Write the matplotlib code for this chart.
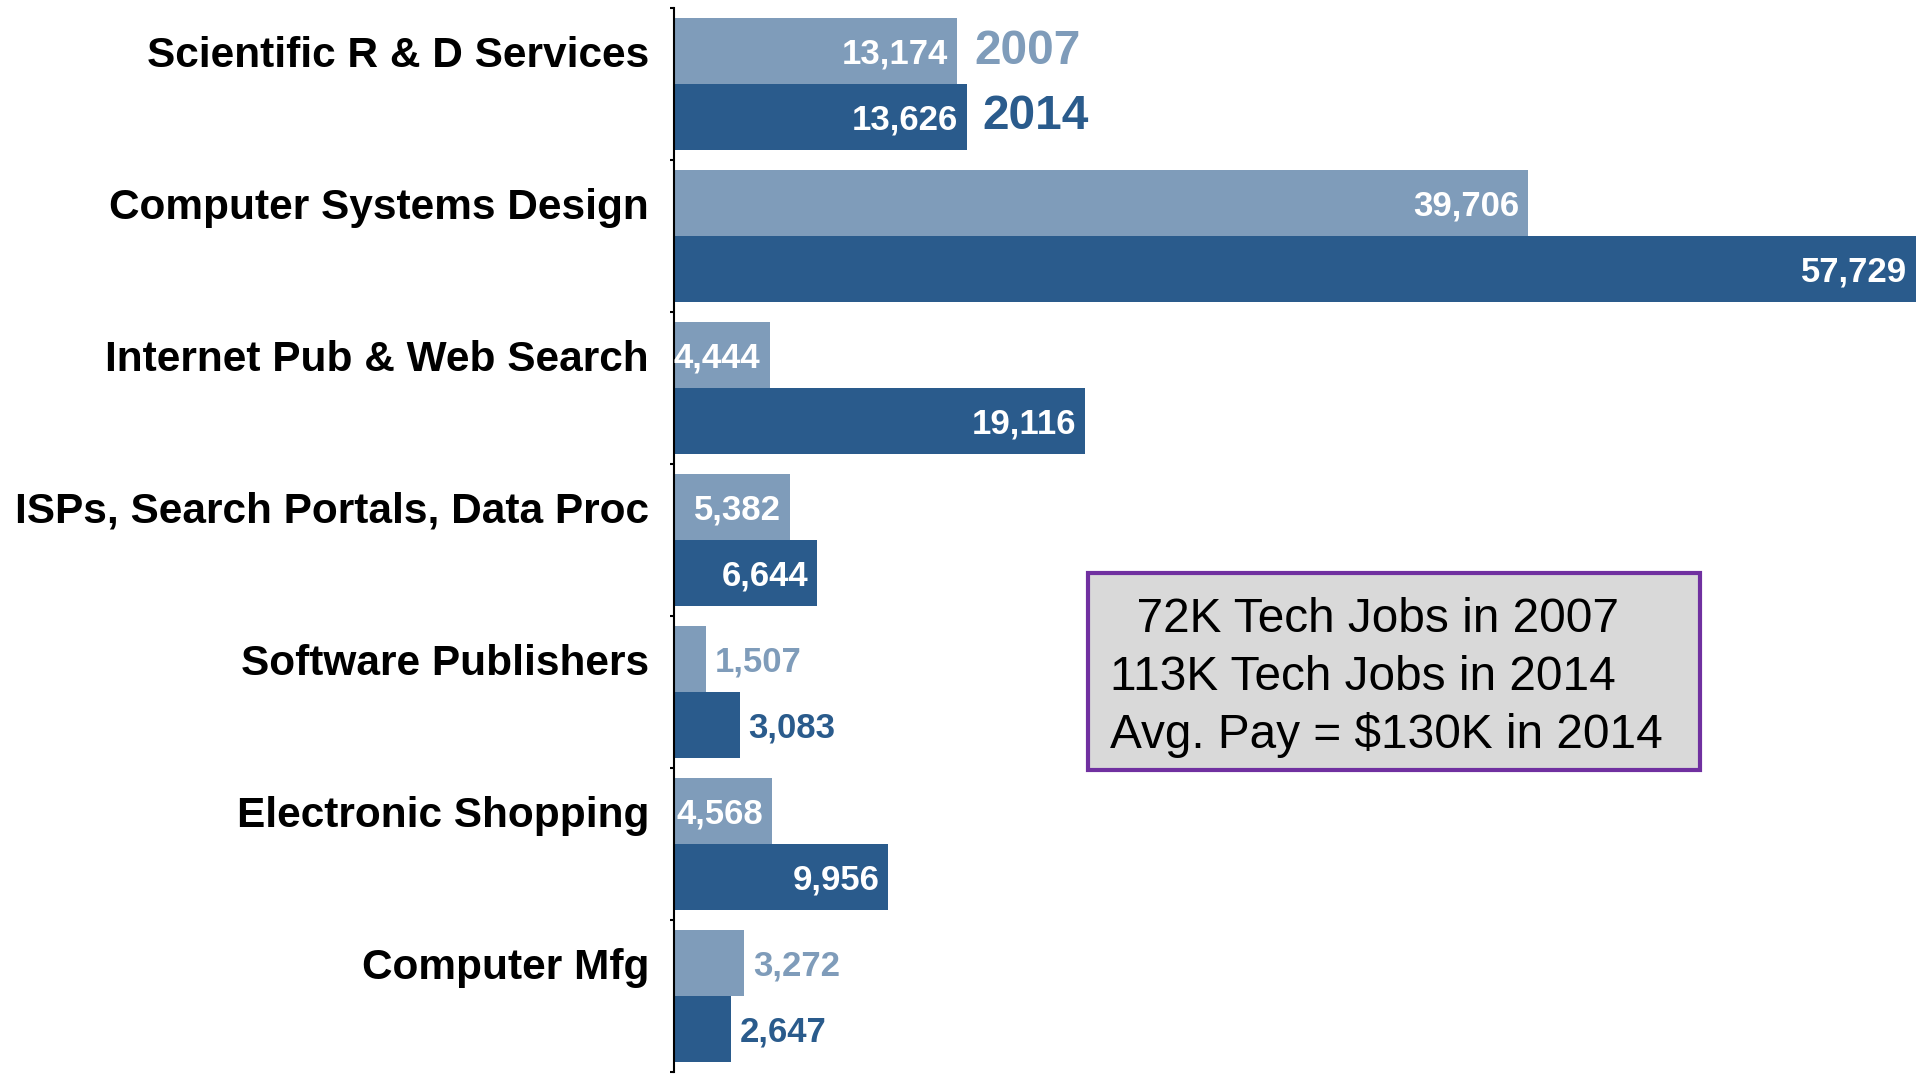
import matplotlib.pyplot as plt
from matplotlib.patches import Rectangle

plt.rcParams['font.family'] = ['Liberation Sans', 'DejaVu Sans']

# Data
categories = ["Scientific R & D Services", "Computer Systems Design",
              "Internet Pub & Web Search", "ISPs, Search Portals, Data Proc",
              "Software Publishers", "Electronic Shopping", "Computer Mfg"]
jobs_2007 = [13174, 39706, 4444, 5382, 1507, 4568, 3272]
jobs_2014 = [13626, 57729, 19116, 6644, 3083, 9956, 2647]
years = ["2007", "2014"]
summary_lines = ["  72K Tech Jobs in 2007", "113K Tech Jobs in 2014", "Avg. Pay = $130K in 2014"]

c2007 = '#7f9cba'
c2014 = '#2a5b8c'

fig = plt.figure(figsize=(19.21, 10.74), dpi=100)
ax = fig.add_axes([674 / 1921, 1 - 1072 / 1074, (1916 - 674) / 1921, 1064 / 1074])

h = 0.434
pos = list(range(len(categories)))
y07 = [i + 0.066 + h / 2 for i in pos]
y14 = [i + 0.066 + 1.5 * h for i in pos]

ax.barh(y07, jobs_2007, height=h, color=c2007)
ax.barh(y14, jobs_2014, height=h, color=c2014)

ax.set_xlim(0, max(jobs_2014))
ax.set_ylim(len(categories), 0)

# value labels: inside for long bars, outside for short ones
for ys, vals, col in [(y07, jobs_2007, c2007), (y14, jobs_2014, c2014)]:
    for y, v in zip(ys, vals):
        txt = f"{v:,}"
        if v >= 4000:
            ax.annotate(txt, (v, y), xytext=(-6.5, -2.5), textcoords='offset points',
                        ha='right', va='center', color='white', fontsize=25, fontweight='bold')
        else:
            ax.annotate(txt, (v, y), xytext=(6, -2.5), textcoords='offset points',
                        ha='left', va='center', color=col, fontsize=25, fontweight='bold')

# year labels next to the first pair of bars
ax.annotate(years[0], (jobs_2007[0], y07[0]), xytext=(12, 0), textcoords='offset points',
            ha='left', va='center', color=c2007, fontsize=34.5, fontweight='bold')
ax.annotate(years[1], (jobs_2014[0], y14[0]), xytext=(11, 0), textcoords='offset points',
            ha='left', va='center', color=c2014, fontsize=34.5, fontweight='bold')

# axis styling
ax.set_yticks(y07)
ax.set_yticklabels(categories, fontsize=30.5, fontweight='bold')
ax.tick_params(axis='y', which='major', length=0, pad=18)
ax.set_yticks(range(len(categories) + 1), minor=True)
ax.tick_params(axis='y', which='minor', length=3, width=1.5, direction='out')
ax.set_xticks([])
for s in ['top', 'right', 'bottom']:
    ax.spines[s].set_visible(False)
ax.spines['left'].set_linewidth(1.5)

# summary box
fig.patches.append(Rectangle((1088 / 1921, 1 - 770 / 1074), 612 / 1921, 197 / 1074,
                             transform=fig.transFigure, facecolor='#d9d9d9',
                             edgecolor='#7030a0', linewidth=3))
for k, line in enumerate(summary_lines):
    fig.text(1110 / 1921, 1 - (619 + k * 58) / 1074, line, fontsize=34.4,
             ha='left', va='center', color='black')

fig.savefig('out.png', dpi=100)
